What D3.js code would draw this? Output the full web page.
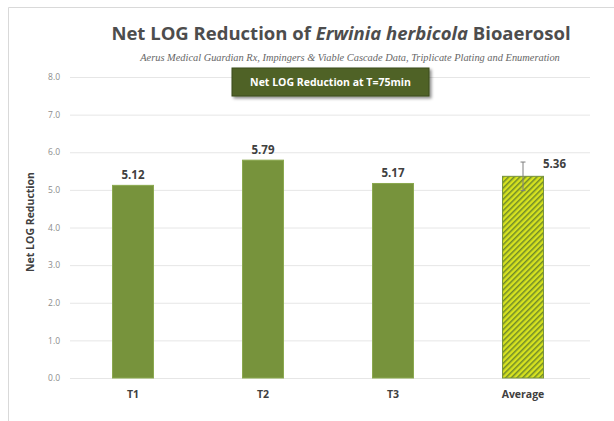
<!DOCTYPE html>
<html><head><meta charset="utf-8">
<script src="https://cdn.jsdelivr.net/npm/d3@7"></script>
<style>body{margin:0;background:#fff;}svg{display:block;}</style>
</head><body>
<svg id="c" width="614" height="421"></svg>
<script>
const categories = ["T1","T2","T3","Average"];
const values = [5.12,5.79,5.17,5.36];
const errorValues = [null,null,null,0.38];
const labels = ["5.12","5.79","5.17","5.36"];
const yTicks = [0,1,2,3,4,5,6,7,8];

const svg = d3.select("#c");
const defs = svg.append("defs");
const pat = defs.append("pattern").attr("id","hatch").attr("patternUnits","userSpaceOnUse")
  .attr("width",4).attr("height",4).attr("patternTransform","rotate(45)");
pat.append("rect").attr("width",4).attr("height",4).attr("fill","#d6e21f");
pat.append("rect").attr("width",1.5).attr("height",4).attr("fill","#6f8a2a");
const f = defs.append("filter").attr("id","sh").attr("x","-10%").attr("y","-20%").attr("width","130%").attr("height","160%");
f.append("feDropShadow").attr("dx",2).attr("dy",2).attr("stdDeviation",1.5).attr("flood-color","#000").attr("flood-opacity",0.45);

// frame
svg.append("path").attr("d","M8.5,421 V7.5 H614").attr("fill","none").attr("stroke","#d9d9d9").attr("stroke-width",1);

const x = d3.scaleBand().domain(categories).range([68,588]).paddingInner(0.685).paddingOuter(0.3425);
const y = d3.scaleLinear().domain([0,8]).range([378,77]);

const gy = svg.append("g").attr("transform","translate(70,0)")
  .call(d3.axisLeft(y).tickValues(yTicks).tickFormat(d3.format(".1f")).tickSize(-520).tickPadding(10));
gy.select(".domain").remove();
gy.selectAll(".tick line").attr("stroke","#e6e6e6");
gy.selectAll(".tick text").attr("fill","#8c8c8c").attr("font-family","Open Sans, sans-serif").attr("font-size",8.5);

// bars
svg.selectAll("rect.bar").data(values).enter().append("rect").attr("class","bar")
  .attr("x",(d,i)=>x(categories[i])).attr("width",x.bandwidth())
  .attr("y",d=>y(d)).attr("height",d=>y(0)-y(d))
  .attr("fill",(d,i)=>i===3?"url(#hatch)":"#77933c")
  .attr("stroke",(d,i)=>i===3?"#76923c":"#8aa84e").attr("stroke-width",1);

// error bar
errorValues.forEach((e,i)=>{
  if(e==null) return;
  const cx = x(categories[i])+x.bandwidth()/2;
  const g = svg.append("g").attr("stroke","#7f7f7f").attr("stroke-width",1);
  g.append("line").attr("x1",cx).attr("x2",cx).attr("y1",y(values[i]+e)).attr("y2",y(values[i]-e));
  g.append("line").attr("x1",cx-2.5).attr("x2",cx+2.5).attr("y1",y(values[i]+e)).attr("y2",y(values[i]+e));
  g.append("line").attr("x1",cx-2.5).attr("x2",cx+2.5).attr("y1",y(values[i]-e)).attr("y2",y(values[i]-e));
});

// value labels
svg.selectAll("text.val").data(values).enter().append("text").attr("class","val")
  .attr("x",(d,i)=>i===3? x(categories[i])+x.bandwidth()+11 : x(categories[i])+x.bandwidth()/2)
  .attr("y",(d,i)=>i===3? y(d)-8 : y(d)-6)
  .attr("text-anchor","middle")
  .attr("font-family","Open Sans, sans-serif").attr("font-weight","bold").attr("font-size",11.5)
  .attr("fill","#404040").text((d,i)=>labels[i]);

// category labels
svg.selectAll("text.cat").data(categories).enter().append("text").attr("class","cat")
  .attr("x",d=>x(d)+x.bandwidth()/2).attr("y",398).attr("text-anchor","middle")
  .attr("font-family","Open Sans, sans-serif").attr("font-weight","bold").attr("font-size",10.5)
  .attr("fill","#404040").text(d=>d);

// y title
svg.append("text").attr("transform","translate(34,222) rotate(-90)").attr("text-anchor","middle")
  .attr("font-family","Open Sans, sans-serif").attr("font-weight","bold").attr("font-size",10.5)
  .attr("fill","#404040").text("Net LOG Reduction");

// title
const t = svg.append("text").attr("x",341).attr("y",40).attr("text-anchor","middle")
  .attr("font-family","Open Sans, sans-serif").attr("font-weight","bold").attr("font-size",18.5).attr("fill","#4d4d4d");
t.append("tspan").text("Net LOG Reduction of ");
t.append("tspan").attr("font-style","italic").text("Erwinia herbicola");
t.append("tspan").text(" Bioaerosol");

svg.append("text").attr("x",350).attr("y",61).attr("text-anchor","middle")
  .attr("font-family","Liberation Serif, serif").attr("font-style","italic").attr("font-size",10.4).attr("fill","#666")
  .text("Aerus Medical Guardian Rx, Impingers & Viable Cascade Data, Triplicate Plating and Enumeration");

// badge
svg.append("rect").attr("x",232).attr("y",68).attr("width",197).attr("height",28)
  .attr("fill","#4f6228").attr("stroke","#3a4a1c").attr("filter","url(#sh)");
svg.append("text").attr("x",330.5).attr("y",86).attr("text-anchor","middle")
  .attr("font-family","Open Sans, sans-serif").attr("font-weight","bold").attr("font-size",10.5).attr("fill","#fff")
  .text("Net LOG Reduction at T=75min");
</script>
</body></html>
